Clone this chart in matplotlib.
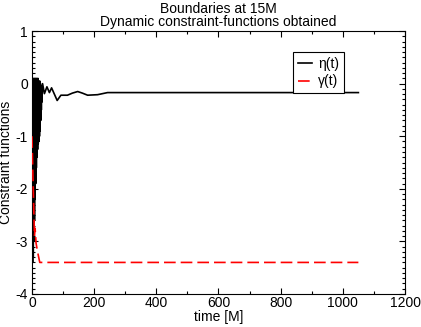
import matplotlib
matplotlib.use('Agg')
import matplotlib.pyplot as plt
from matplotlib.ticker import MultipleLocator

plt.rcParams['font.family'] = ['Liberation Sans', 'DejaVu Sans']
plt.rcParams['font.size'] = 10
plt.rcParams['axes.unicode_minus'] = False

# eta(t): fast oscillation at start, then damped to a constant
eta_t = [0, 1, 2, 3, 4, 5, 6, 7, 8, 9, 10, 11, 12, 13, 14, 15, 16, 17, 18, 19,
         20, 21, 22, 23, 24, 25, 26, 27, 28, 29, 30, 31, 32, 34,
         40, 48, 56, 63, 72, 81, 93, 114, 130, 147, 162, 179, 211, 243, 276,
         320, 400, 600, 800, 1050]
eta_v = [-1.0, 0.05, -3.4, 0.1, -3.3, 0.05, -3.0, 0.1, -2.6, 0.05, -2.2, 0.1,
         -1.9, 0.05, -1.6, 0.1, -1.4, 0.05, -1.25, 0.1, -1.15, 0.05, -1.1, 0.0,
         -1.0, 0.05, -0.9, 0.0, -0.7, -0.05, -0.5, -0.1, -0.35, 0.0,
         -0.19, -0.06, -0.17, -0.08, -0.2, -0.32, -0.22, -0.22, -0.18, -0.15,
         -0.18, -0.22, -0.21, -0.17, -0.17, -0.17, -0.17, -0.17, -0.17, -0.17]

# gamma(t): drops to a constant value
gam_t = [0, 4, 8, 10, 13, 18, 25, 1050]
gam_v = [-1.0, -2.0, -2.9, -2.75, -3.03, -3.2, -3.4, -3.4]

fig = plt.figure(figsize=(4.21, 3.27), dpi=100)
ax = fig.add_axes([0.076, 0.101, 0.886, 0.804])

ax.plot(eta_t, eta_v, color='black', lw=1.2, label='η(t)')
ax.plot(gam_t, gam_v, color='red', lw=1.2, dashes=(7, 3), label='γ(t)',
        zorder=3)

ax.set_xlim(0, 1200)
ax.set_ylim(-4, 1)
ax.xaxis.set_major_locator(MultipleLocator(200))
ax.xaxis.set_minor_locator(MultipleLocator(100))
ax.yaxis.set_major_locator(MultipleLocator(1))
ax.yaxis.set_minor_locator(MultipleLocator(0.1))
ax.tick_params(which='both', direction='in', top=True, right=True, width=0.8)
ax.tick_params(which='major', length=4.5)
ax.tick_params(which='minor', length=2.2)
ax.tick_params(axis='x', pad=1.5)
ax.tick_params(axis='y', pad=3)

ax.set_xlabel('time [M]', labelpad=0)
ax.set_ylabel('Constraint functions')
ax.yaxis.set_label_coords(-0.05, 0.5)
ax.set_title('Boundaries at 15M\nDynamic constraint-functions obtained',
             fontsize=10, linespacing=0.9, pad=4)

leg = ax.legend(loc='upper left', bbox_to_anchor=(0.70, 0.92), frameon=True,
                fancybox=False, edgecolor='black', framealpha=1,
                borderaxespad=0, handlelength=1.0, borderpad=0.35,
                labelspacing=0.25, handletextpad=0.45)
leg.get_frame().set_linewidth(0.8)

fig.savefig('out.png', dpi=100)
